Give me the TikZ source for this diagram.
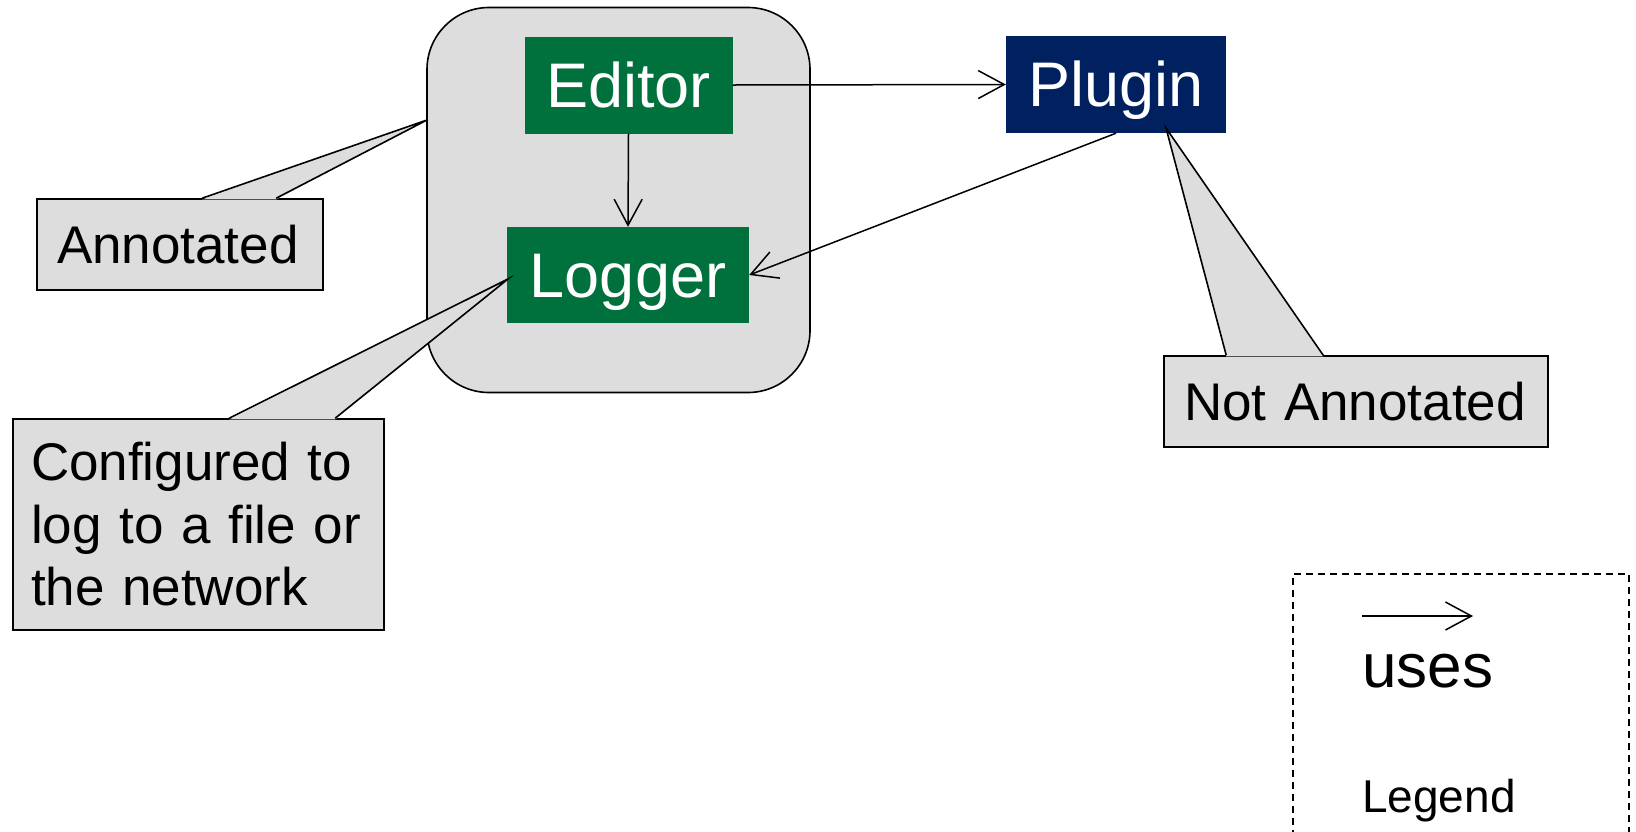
\documentclass[tikz,border=0pt]{standalone}
\usepackage{fontspec}
\setmainfont{Liberation Sans}
\usetikzlibrary{arrows.meta,calc}
\definecolor{edgreen}{RGB}{0,112,60}
\definecolor{plnavy}{RGB}{0,32,96}
\definecolor{callgray}{RGB}{221,221,221}
\begin{document}
\begin{tikzpicture}[x=1pt,y=-1pt,
  compbox/.style={draw, fill=callgray, line width=1.6pt, rounded corners=62pt, minimum width=383pt, minimum height=385pt},
  classbox/.style={inner sep=0pt, text=white, font=\fontsize{63pt}{70pt}\selectfont, text height=44pt, text depth=0pt},
  callout/.style={draw, fill=callgray, line width=1.6pt, align=left, font=\fontsize{53pt}{62.5pt}\selectfont},
  uses/.style={-{Straight Barb[length=26pt,width=28pt]}, line width=1.5pt},
  ptr/.style={line width=1.6pt, line join=miter}
]
\useasboundingbox (0,0) rectangle (1636,831);
\clip (0,0) rectangle (1636,831);

% component container
\node[compbox] (comp) at (618.5,200) {};

% classes
\node[classbox, fill=edgreen, minimum width=208pt, minimum height=97pt] (ed) at (628.5,85) {Editor};
\node[classbox, fill=edgreen, minimum width=242pt, minimum height=96pt] (log) at (628,275) {Logger};
\node[classbox, fill=plnavy, minimum width=220pt, minimum height=97pt] (plug) at (1116,84.5) {Plugin};

% uses arrows
\draw[uses] (ed.east) -- (plug.west);
\draw[uses] (ed.south) -- (log.north);
\draw[uses] (plug.south) -- (log.east);

% callout: Annotated
\node[callout, minimum width=286pt, minimum height=91pt, text width=246pt, inner xsep=20pt, text height=38pt, text depth=0pt] (ann) at (180,244.5) {Annotated};
\coordinate (anntip) at (427,120);
\fill[callgray] ($(ann.north west)+(166,1.2)$) -- (anntip) -- ($(ann.north west)+(240,1.2)$) -- cycle;
\draw[ptr] ($(ann.north west)+(166,0)$) -- (anntip) -- ($(ann.north west)+(240,0)$);

% callout: Configured
\node[callout, minimum width=371pt, minimum height=211pt, text width=335pt, inner xsep=18pt] (cfg) at (198.5,524.5) {Configured to\\log to a file or\\the network};
\coordinate (cfgtip) at (508,279);
\fill[callgray] ($(cfg.north west)+(217,1.2)$) -- (cfgtip) -- ($(cfg.north west)+(323,1.2)$) -- cycle;
\draw[ptr] ($(cfg.north west)+(217,0)$) -- (cfgtip) -- ($(cfg.north west)+(323,0)$);

% callout: Not Annotated
\node[callout, minimum width=384pt, minimum height=91pt, text width=344pt, inner xsep=20pt, text height=38pt, text depth=0pt] (nann) at (1356,401.5) {Not Annotated};
\coordinate (nanntip) at (1166,128);
\fill[callgray] ($(nann.north west)+(63,1.2)$) -- (nanntip) -- ($(nann.north west)+(160,1.2)$) -- cycle;
\draw[ptr] ($(nann.north west)+(63,0)$) -- (nanntip) -- ($(nann.north west)+(160,0)$);

% legend
\node[draw, dashed, dash pattern=on 7pt off 5pt, line width=1.5pt, minimum width=336pt, minimum height=320pt, anchor=north west] (legend) at (1292,573) {};
\coordinate (lgA) at (1362,616);
\coordinate (lgB) at (1473,616);
\draw[uses] (lgA) -- (lgB);
\node[anchor=base west, inner sep=0pt, font=\fontsize{62pt}{70pt}\selectfont] (usestxt) at (1362,687) {uses};
\node[anchor=base west, inner sep=0pt, font=\fontsize{46pt}{52pt}\selectfont] (legtxt) at (1362,812) {Legend};
\end{tikzpicture}
\end{document}
